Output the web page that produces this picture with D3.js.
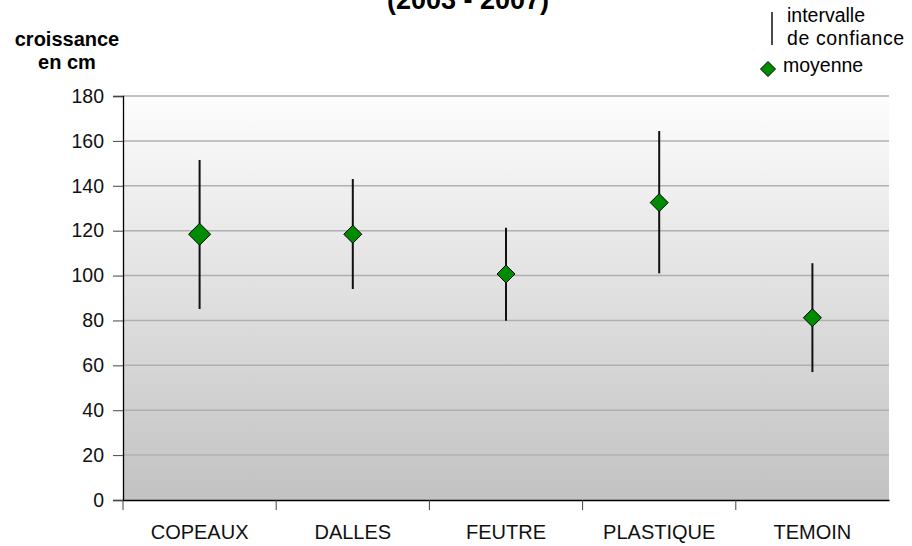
<!DOCTYPE html>
<html>
<head>
<meta charset="utf-8">
<script src="https://cdn.jsdelivr.net/npm/d3@7"></script>
<style>
  body { margin: 0; background: #fff; }
  svg { display: block; font-family: "Liberation Sans", Arial, sans-serif; }
</style>
</head>
<body>
<div id="chart"></div>
<script>
const categories = ['COPEAUX', 'DALLES', 'FEUTRE', 'PLASTIQUE', 'TEMOIN'];
const means = [118.4, 118.4, 100.7, 132.5, 81.2];
const lower = [85.1, 94.0, 79.9, 101.0, 57.0];
const upper = [151.5, 143.0, 121.3, 164.4, 105.5];
const yTicks = [0, 20, 40, 60, 80, 100, 120, 140, 160, 180];

const width = 912, height = 546;
const margin = { top: 96, right: 23, bottom: 46, left: 123 };
const innerW = width - margin.left - margin.right;
const innerH = height - margin.top - margin.bottom;

const svg = d3.select('#chart').append('svg')
  .attr('width', width)
  .attr('height', height);

const defs = svg.append('defs');
const grad = defs.append('linearGradient')
  .attr('id', 'bg')
  .attr('x1', 0).attr('y1', 0).attr('x2', 0).attr('y2', 1);
grad.append('stop').attr('offset', '0%').attr('stop-color', '#fdfdfd');
grad.append('stop').attr('offset', '100%').attr('stop-color', '#c2c2c2');

const x = d3.scaleBand().domain(categories).range([0, innerW]);
const y = d3.scaleLinear().domain([0, 180]).range([innerH, 0]);

const g = svg.append('g')
  .attr('transform', `translate(${margin.left},${margin.top})`);

g.append('rect')
  .attr('width', innerW)
  .attr('height', innerH)
  .attr('fill', 'url(#bg)');

// gridlines
g.selectAll('.grid')
  .data(yTicks.filter(d => d > 0))
  .join('line')
  .attr('x1', 0).attr('x2', innerW)
  .attr('y1', d => y(d)).attr('y2', d => y(d))
  .attr('stroke', '#b0b0b0')
  .attr('stroke-width', 1.5);

// y axis
const yAxis = g.append('g')
  .call(d3.axisLeft(y).tickValues(yTicks).tickSize(10).tickPadding(9));
yAxis.select('.domain').attr('stroke', '#000').attr('stroke-width', 1.3);
yAxis.selectAll('.tick line').attr('stroke', '#444');
yAxis.selectAll('text')
  .attr('font-size', 19.5)
  .attr('fill', '#111')
  .attr('font-family', '"Liberation Sans", Arial, sans-serif');

// x axis
const xAxis = g.append('g')
  .attr('transform', `translate(0,${innerH})`)
  .call(d3.axisBottom(x).tickSize(0).tickPadding(25));
xAxis.select('.domain').attr('stroke', '#000').attr('stroke-width', 1.3);
xAxis.selectAll('text')
  .attr('font-size', 20)
  .attr('fill', '#111')
  .attr('font-family', '"Liberation Sans", Arial, sans-serif');
// band boundary ticks
xAxis.selectAll('.bound')
  .data(categories)
  .join('line')
  .attr('class', 'bound')
  .attr('x1', d => x(d)).attr('x2', d => x(d))
  .attr('y1', 0).attr('y2', 10)
  .attr('stroke', '#444');

// confidence intervals
g.selectAll('.ci')
  .data(categories)
  .join('line')
  .attr('x1', d => x(d) + x.bandwidth() / 2)
  .attr('x2', d => x(d) + x.bandwidth() / 2)
  .attr('y1', (d, i) => y(upper[i]))
  .attr('y2', (d, i) => y(lower[i]))
  .attr('stroke', '#111')
  .attr('stroke-width', 2);

// means
const diamond = r => `M0,${-r}L${r},0L0,${r}L${-r},0Z`;
g.selectAll('.mean')
  .data(categories)
  .join('path')
  .attr('transform', (d, i) => `translate(${x(d) + x.bandwidth() / 2},${y(means[i])})`)
  .attr('d', (d, i) => diamond(i === 0 ? 11 : 9))
  .attr('fill', '#008c00')
  .attr('stroke', '#000')
  .attr('stroke-width', 1);

// title (top line cut off, as in the source)
svg.append('text')
  .attr('x', 468).attr('y', 9)
  .attr('text-anchor', 'middle')
  .attr('font-size', 27)
  .attr('font-weight', 'bold')
  .text('(2003 - 2007)');

// y axis label
const yl = svg.append('text')
  .attr('text-anchor', 'middle')
  .attr('font-size', 20)
  .attr('font-weight', 'bold');
yl.append('tspan').attr('x', 67).attr('y', 46).text('croissance');
yl.append('tspan').attr('x', 67).attr('y', 69).text('en cm');

// legend
const lg = svg.append('g');
lg.append('line')
  .attr('x1', 772).attr('x2', 772)
  .attr('y1', 12).attr('y2', 45)
  .attr('stroke', '#111').attr('stroke-width', 1.5);
lg.append('text').attr('x', 787).attr('y', 22).attr('font-size', 19.5).text('intervalle');
lg.append('text').attr('x', 787).attr('y', 45).attr('font-size', 19.5)
  .attr('letter-spacing', 0.6).text('de confiance');
lg.append('path')
  .attr('transform', 'translate(768,69)')
  .attr('d', diamond(7.5))
  .attr('fill', '#008c00')
  .attr('stroke', '#000');
lg.append('text').attr('x', 783).attr('y', 72).attr('font-size', 19.5).text('moyenne');
</script>
</body>
</html>
